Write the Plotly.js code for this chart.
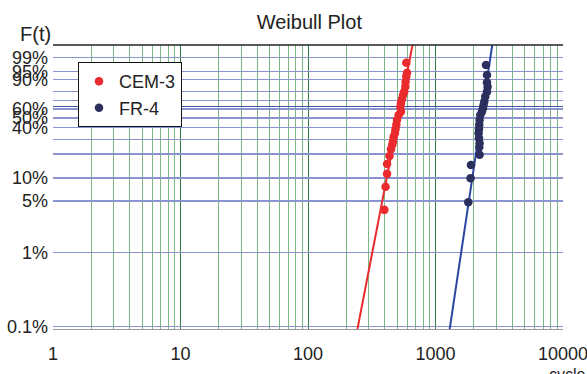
<!DOCTYPE html>
<html>
<head>
<meta charset="utf-8">
<script src="https://cdn.plot.ly/plotly-3.0.1.min.js"></script>
<style>html,body{margin:0;padding:0;background:#fff;}#chart{width:587px;height:374px;}</style>
</head>
<body>
<div id="chart"></div>
<script>
// ---- data (cycles to failure, cumulative failure probability F) ----
var cemX = [590, 598, 590, 583, 580, 569, 556, 546, 536, 530, 536, 514, 499, 493, 486, 481, 469, 464, 458, 448, 436, 417, 417, 406, 397];
var cemF = [0.980, 0.943, 0.921, 0.885, 0.843, 0.795, 0.760, 0.713, 0.667, 0.628, 0.571, 0.534, 0.479, 0.428, 0.386, 0.350, 0.316, 0.281, 0.258, 0.229, 0.190, 0.151, 0.113, 0.077, 0.038];
var frX = [2489, 2535, 2535, 2563, 2535, 2458, 2415, 2384, 2358, 2316, 2246, 2218, 2205, 2193, 2178, 2193, 2218, 2205, 2218, 1898, 1885, 1808];
var frF = [0.974, 0.931, 0.878, 0.843, 0.795, 0.742, 0.686, 0.648, 0.610, 0.571, 0.534, 0.479, 0.428, 0.386, 0.350, 0.308, 0.270, 0.242, 0.196, 0.147, 0.0996, 0.048];
// fitted Weibull lines (end points)
var cemLineX = [243.6, 661];
var cemLineF = [0.0009, 0.999];
var frLineX = [1290, 2789];
var frLineF = [0.0009, 0.999];
// axis ticks
var yTickF = [0.001, 0.01, 0.05, 0.1, 0.2, 0.3, 0.4, 0.5, 0.6, 0.7, 0.8, 0.9, 0.95, 0.99];
var yTickText = ['0.1%', '1%', '5%', '10%', '', '', '40%', '50%', '60%', '', '', '90%', '95%', '99%'];
var xTickVals = [1, 10, 100, 1000, 10000];
var xTickText = ['1', '10', '100', '1000', '10000'];
var xMinorVals = [2,3,4,5,6,7,8,9,20,30,40,50,60,70,80,90,200,300,400,500,600,700,800,900,2000,3000,4000,5000,6000,7000,8000,9000];

// Weibull probability scale
function wb(F) { return Math.log(-Math.log(1 - F)); }

var RED = '#ea2a2c', NAVY = '#2a2f5e', BLUE = '#2c45a0';
var traces = [
  {x: cemLineX, y: cemLineF.map(wb), mode: 'lines', line: {color: RED, width: 2}, showlegend: false, hoverinfo: 'skip'},
  {x: frLineX, y: frLineF.map(wb), mode: 'lines', line: {color: BLUE, width: 2}, showlegend: false, hoverinfo: 'skip'},
  {x: cemX, y: cemF.map(wb), mode: 'markers', name: 'CEM-3', marker: {color: RED, size: 8.5}},
  {x: frX, y: frF.map(wb), mode: 'markers', name: 'FR-4', marker: {color: NAVY, size: 8.5}}
];

var layout = {
  width: 587, height: 374,
  margin: {l: 53, r: 24, t: 45, b: 45},
  paper_bgcolor: '#fff', plot_bgcolor: '#fff',
  font: {family: 'Liberation Sans, Arial, sans-serif', size: 18, color: '#222'},
  title: {text: 'Weibull Plot', font: {size: 20, color: '#222'}, x: 0.527, xanchor: 'center', y: 0.94, yanchor: 'middle'},
  showlegend: true,
  legend: {x: 0.049, y: 0.94, xanchor: 'left', yanchor: 'top', bgcolor: '#fff', bordercolor: '#111', borderwidth: 1,
           font: {size: 18, color: '#222'}, tracegroupgap: 0, itemwidth: 30},
  xaxis: {type: 'log', range: [-0.0002, 4.0002], tickmode: 'array', tickvals: xTickVals, ticktext: xTickText,
          showgrid: true, gridcolor: '#2f7d3a', gridwidth: 1, ticks: '', ticklabelstandoff: 8, ticklabeloverflow: 'allow',
          minor: {tickmode: 'array', tickvals: xMinorVals, showgrid: true, gridcolor: '#7db883', gridwidth: 1.2, ticks: ''},
          showline: true, linecolor: '#9a9a9a', linewidth: 1, zeroline: false, fixedrange: true},
  yaxis: {range: [-6.99, 1.924], tickmode: 'array', tickvals: yTickF.map(wb), ticktext: yTickText,
          showgrid: true, gridcolor: '#8a94cf', gridwidth: 1.2, ticks: '', ticklabelstandoff: 4, ticklabeloverflow: 'allow',
          zeroline: true, zerolinecolor: '#4256a8', zerolinewidth: 1,
          showline: false, fixedrange: true},
  shapes: [
    {type: 'line', xref: 'paper', yref: 'paper', x0: 0, x1: 1, y0: 1, y1: 1, line: {color: '#222', width: 1.5}}
  ],
  annotations: [
    {text: 'F(t)', xref: 'paper', yref: 'paper', x: -0.035, y: 1.039, xanchor: 'center', yanchor: 'middle', showarrow: false, font: {size: 20, color: '#222'}},
    {text: 'cycle', xref: 'paper', yref: 'paper', x: 0.969, y: -0.124, xanchor: 'left', yanchor: 'top', showarrow: false, font: {size: 16, color: '#222'}}
  ]
};
Plotly.newPlot('chart', traces, layout, {displayModeBar: false, staticPlot: true});
</script>
</body>
</html>
